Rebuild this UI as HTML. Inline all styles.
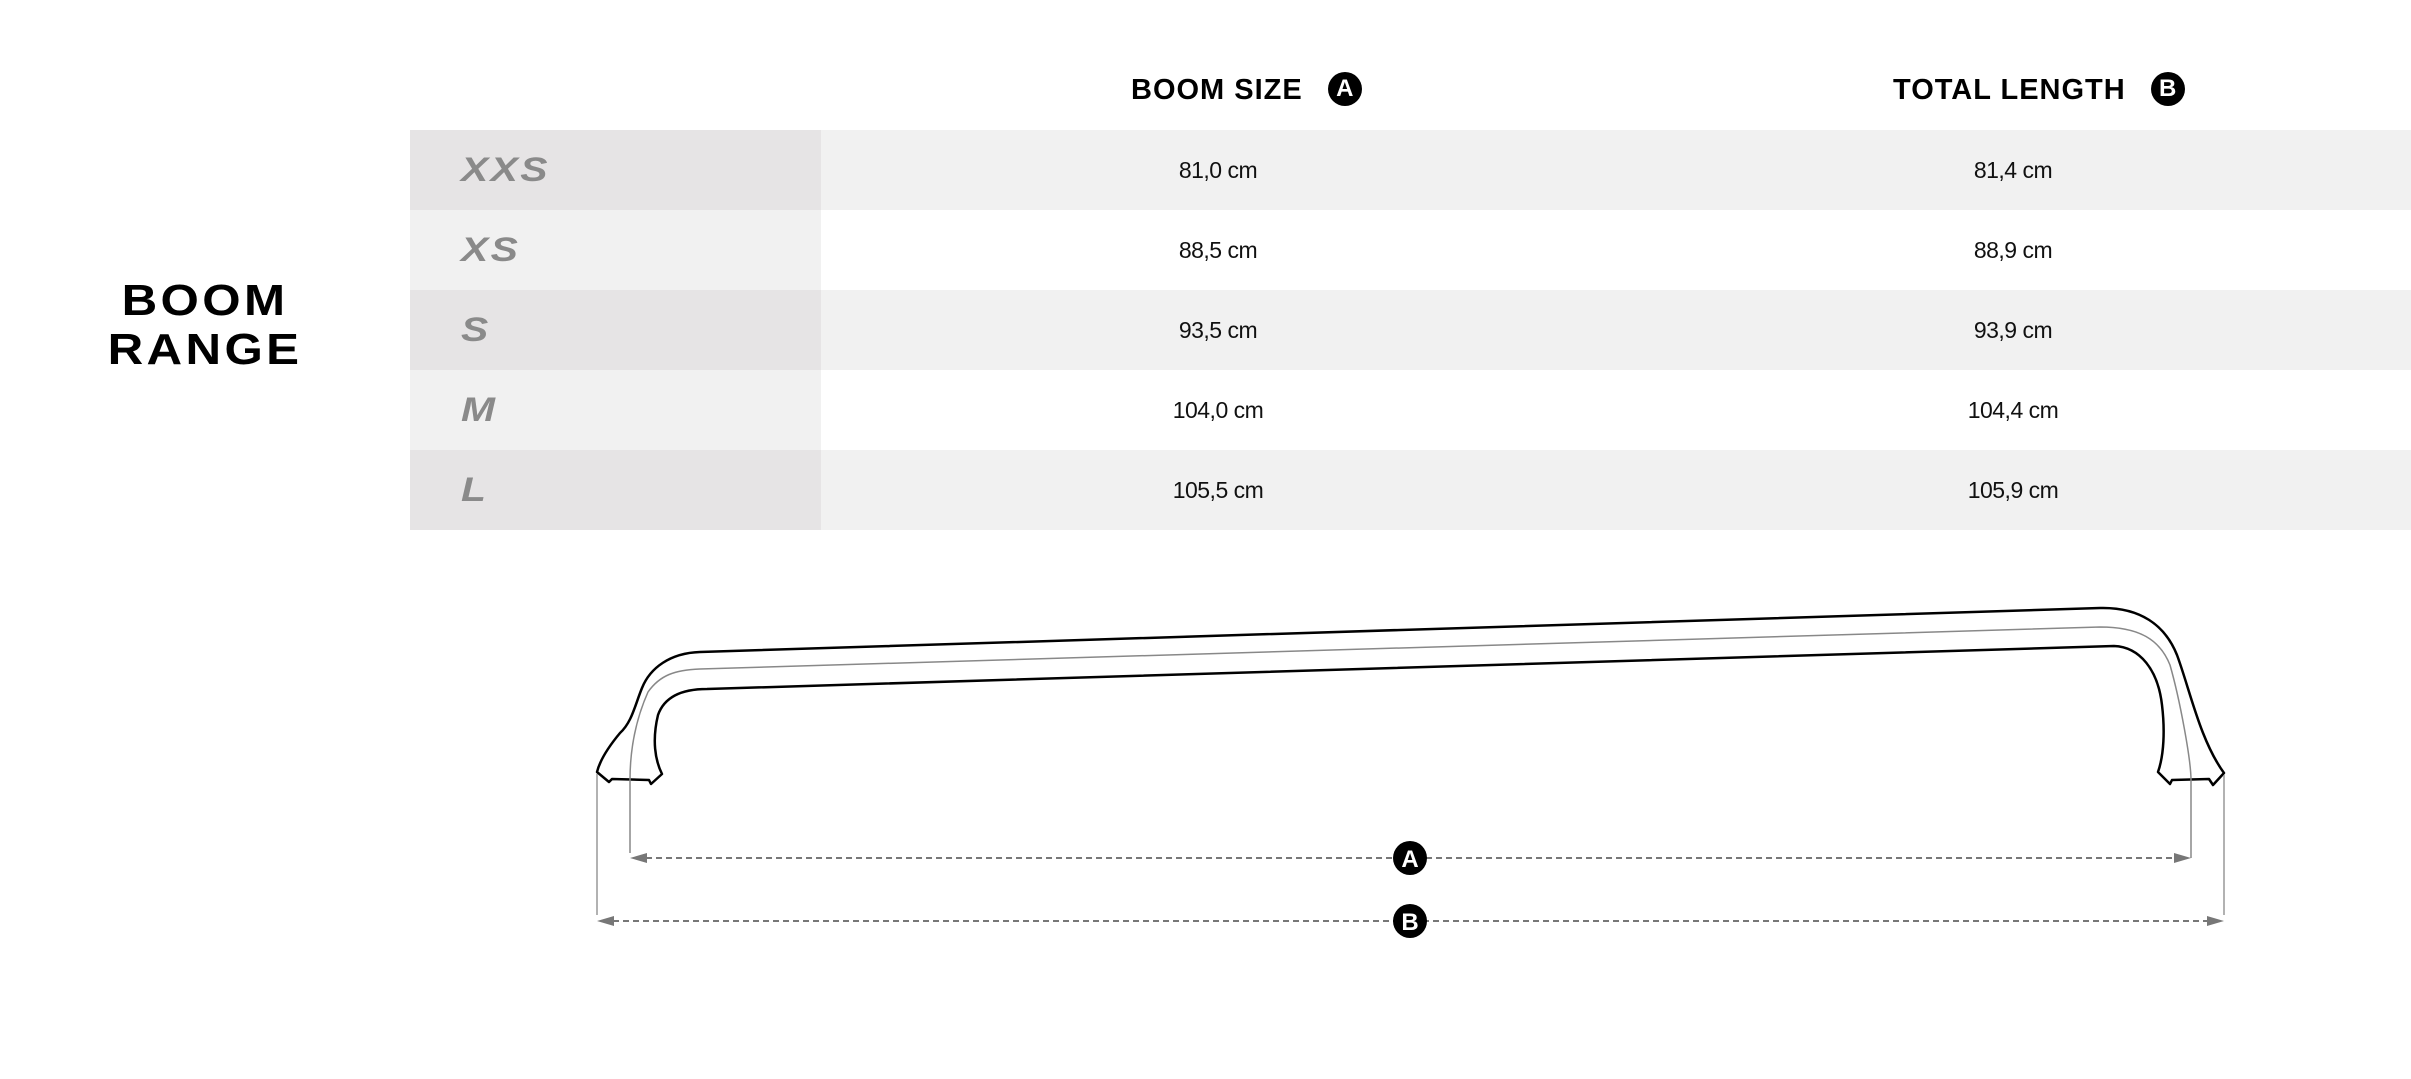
<!DOCTYPE html>
<html><head><meta charset="utf-8"><style>
html,body{margin:0;padding:0;background:#fff;}
body{width:2411px;height:1079px;position:relative;overflow:hidden;font-family:"Liberation Sans",sans-serif;}
.abs{position:absolute;}
.row{position:absolute;left:410px;width:2001px;height:80px;}
.c1{position:absolute;left:0;top:0;width:411px;height:80px;}
.sz{position:absolute;left:51px;top:0;line-height:80px;font-size:34px;font-weight:bold;font-style:italic;color:#8a8a8a;letter-spacing:2px;transform:scaleX(1.2);transform-origin:left center;}
.v{position:absolute;top:0;line-height:80px;font-size:23px;color:#111;width:300px;text-align:center;letter-spacing:-0.5px;}
.hd{position:absolute;top:72px;font-size:29px;font-weight:bold;color:#000;line-height:36px;letter-spacing:1px;}
.circ{display:inline-block;width:34px;height:34px;border-radius:50%;background:#000;color:#fff;font-size:24px;line-height:34px;text-align:center;font-weight:bold;vertical-align:top;margin-left:25px;letter-spacing:0;}
</style></head><body>
<div class="abs" style="left:80px;top:276px;width:250px;text-align:center;font-size:44px;line-height:49px;color:#000;letter-spacing:3px;font-weight:bold;transform:scaleX(1.12);transform-origin:center;">BOOM<br>RANGE</div>

<div class="hd" style="left:1131px;">BOOM SIZE<span class="circ">A</span></div>
<div class="hd" style="left:1893px;">TOTAL LENGTH<span class="circ">B</span></div>

<div class="row" style="top:130px;background:#f1f1f1;"><div class="c1" style="background:#e6e4e5"></div><div class="sz">XXS</div><div class="v" style="left:658px">81,0 cm</div><div class="v" style="left:1453px">81,4 cm</div></div>
<div class="row" style="top:210px;background:#fff;"><div class="c1" style="background:#f1f1f1"></div><div class="sz">XS</div><div class="v" style="left:658px">88,5 cm</div><div class="v" style="left:1453px">88,9 cm</div></div>
<div class="row" style="top:290px;background:#f1f1f1;"><div class="c1" style="background:#e6e4e5"></div><div class="sz">S</div><div class="v" style="left:658px">93,5 cm</div><div class="v" style="left:1453px">93,9 cm</div></div>
<div class="row" style="top:370px;background:#fff;"><div class="c1" style="background:#f1f1f1"></div><div class="sz">M</div><div class="v" style="left:658px">104,0 cm</div><div class="v" style="left:1453px">104,4 cm</div></div>
<div class="row" style="top:450px;background:#f1f1f1;"><div class="c1" style="background:#e6e4e5"></div><div class="sz">L</div><div class="v" style="left:658px">105,5 cm</div><div class="v" style="left:1453px">105,9 cm</div></div>

<svg class="abs" style="left:0;top:0" width="2411" height="1079" viewBox="0 0 2411 1079">
<path d="M2100 608 L700 652 C670 653 650 668 642 688 C635 705 632 722 620 733 C610 745 600 760 597 772 L609 782 L612 779 L649 780 L651 784 L662 774 C655 760 652 740 658 715 C664 698 680 689 707 689 L2114 646 C2140 647 2158 670 2162 705 C2165 730 2164 755 2158 772 L2170 784 L2172 780 L2209 779 L2213 785 L2224 773 C2200 740 2190 690 2177 655 C2165 625 2140 607 2100 608 Z" fill="none" stroke="#000" stroke-width="2.5" stroke-linejoin="round"/>
<path d="M630 853 L630 780 C630 740 640 710 648 692 C660 675 675 670 700 669 L2100 627 C2140 627 2160 640 2170 665 C2180 700 2191 760 2191 780 L2191 858" fill="none" stroke="#888" stroke-width="1.5"/>
<line x1="597" y1="774" x2="597" y2="915" stroke="#999" stroke-width="1.5"/>
<line x1="2224" y1="775" x2="2224" y2="915" stroke="#999" stroke-width="1.5"/>
<line x1="646" y1="858" x2="2175" y2="858" stroke="#777" stroke-width="2" stroke-dasharray="6,4"/>
<line x1="613" y1="921" x2="2208" y2="921" stroke="#777" stroke-width="2" stroke-dasharray="6,4"/>
<polygon points="630,858 647,853 647,863" fill="#777"/>
<polygon points="2191,858 2174,853 2174,863" fill="#777"/>
<polygon points="597,921 614,916 614,926" fill="#777"/>
<polygon points="2224,921 2207,916 2207,926" fill="#777"/>
<circle cx="1410" cy="858" r="17" fill="#000"/>
<circle cx="1410" cy="921" r="17" fill="#000"/>
<text x="1410" y="867" text-anchor="middle" font-family="Liberation Sans" font-weight="bold" font-size="24" fill="#fff">A</text>
<text x="1410" y="930" text-anchor="middle" font-family="Liberation Sans" font-weight="bold" font-size="24" fill="#fff">B</text>
</svg>
</body></html>
